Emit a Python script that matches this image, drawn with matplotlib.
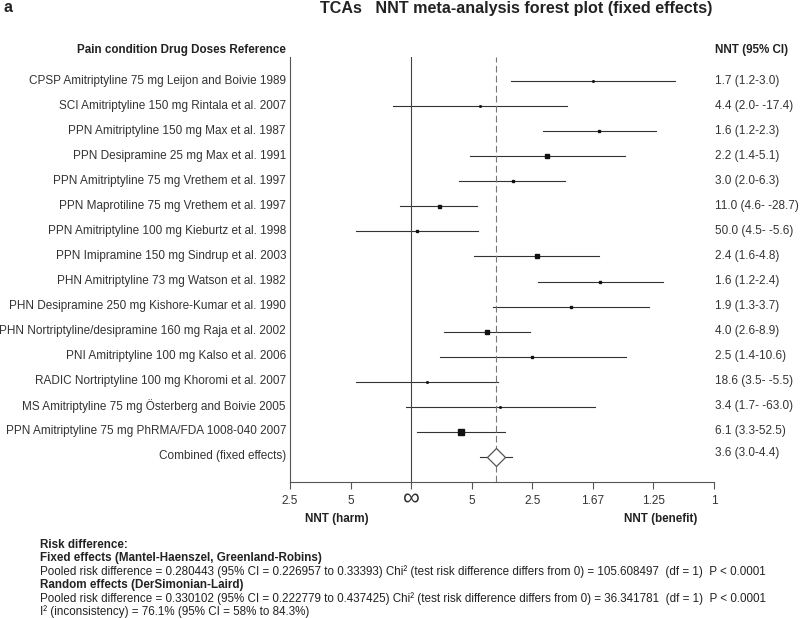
import numpy as np
import matplotlib
matplotlib.use("Agg")
import matplotlib.pyplot as plt

# TCAs NNT forest plot, values read as risk differences

studies = ["CPSP Amitriptyline 75 mg Leijon and Boivie 1989",
           "SCI Amitriptyline 150 mg Rintala et al. 2007",
           "PPN Amitriptyline 150 mg Max et al. 1987",
           "PPN Desipramine 25 mg Max et al. 1991",
           "PPN Amitriptyline 75 mg Vrethem et al. 1997",
           "PPN Maprotiline 75 mg Vrethem et al. 1997",
           "PPN Amitriptyline 100 mg Kieburtz et al. 1998",
           "PPN Imipramine 150 mg Sindrup et al. 2003",
           "PHN Amitriptyline 73 mg Watson et al. 1982",
           "PHN Desipramine 250 mg Kishore-Kumar et al. 1990",
           "PHN Nortriptyline/desipramine 160 mg Raja et al. 2002",
           "PNI Amitriptyline 100 mg Kalso et al. 2006",
           "RADIC Nortriptyline 100 mg Khoromi et al. 2007",
           "MS Amitriptyline 75 mg \u00d6sterberg and Boivie 2005",
           "PPN Amitriptyline 75 mg PhRMA/FDA 1008-040 2007"]
nnt_text = ["1.7 (1.2-3.0)", "4.4 (2.0- -17.4)", "1.6 (1.2-2.3)", "2.2 (1.4-5.1)",
            "3.0 (2.0-6.3)", "11.0 (4.6- -28.7)", "50.0 (4.5- -5.6)", "2.4 (1.6-4.8)",
            "1.6 (1.2-2.4)", "1.9 (1.3-3.7)", "4.0 (2.6-8.9)", "2.5 (1.4-10.6)",
            "18.6 (3.5- -5.5)", "3.4 (1.7- -63.0)", "6.1 (3.3-52.5)"]
rd = [0.600, 0.228, 0.620, 0.450, 0.335, 0.091, 0.019, 0.414,
      0.625, 0.527, 0.251, 0.400, 0.053, 0.294, 0.163]
rd_lo = [0.330, -0.059, 0.435, 0.195, 0.159, -0.037, -0.182, 0.209,
         0.420, 0.270, 0.110, 0.094, -0.182, -0.016, 0.018]
rd_hi = [0.870, 0.514, 0.808, 0.706, 0.508, 0.218, 0.221, 0.620,
         0.833, 0.785, 0.392, 0.708, 0.288, 0.607, 0.310]
weights = [2, 2, 6, 10, 5, 9, 8, 20, 6, 6, 25, 8, 2, 2, 42]

pooled_label = "Combined (fixed effects)"
pooled_text = "3.6 (3.0-4.4)"
pooled_rd = 0.280443
pooled_lo = 0.226957
pooled_hi = 0.33393

tick_rd = [-0.4, -0.2, 0.0, 0.2, 0.4, 0.6, 0.8, 1.0]
tick_text = ["2.5", "5", "", "5", "2.5", "1.67", "1.25", "1"]

footer = [
    ("Risk difference:", "bold"),
    ("Fixed effects (Mantel-Haenszel, Greenland-Robins)", "bold"),
    ("Pooled risk difference = 0.280443 (95% CI = 0.226957 to 0.33393) Chi\u00b2 (test risk difference differs from 0) = 105.608497  (df = 1)  P < 0.0001", "normal"),
    ("Random effects (DerSimonian-Laird)", "bold"),
    ("Pooled risk difference = 0.330102 (95% CI = 0.222779 to 0.437425) Chi\u00b2 (test risk difference differs from 0) = 36.341781  (df = 1)  P < 0.0001", "normal"),
    ("I\u00b2 (inconsistency) = 76.1% (95% CI = 58% to 84.3%)", "normal"),
]

plt.rcParams["font.family"] = ["Liberation Sans", "DejaVu Sans"]
col = "#333333"

fig = plt.figure(figsize=(8, 6.18), dpi=100)
ax = fig.add_axes([290 / 800, 1 - 482 / 618, 424 / 800, 425 / 618])

n = len(studies)
rows = np.arange(n)
for i in range(n):
    ax.plot([rd_lo[i], rd_hi[i]], [rows[i], rows[i]], color=col, lw=0.8)
    ax.plot(rd[i], rows[i], marker="s", color="#111111", ms=np.sqrt(weights[i]) * 0.72, mec="#111111")

ax.axvline(0, color="#444444", lw=0.8)
ax.axvline(pooled_rd, color="#777777", lw=0.8, ls=(0, (6, 3)))

ax.plot([pooled_lo, pooled_hi], [n, n], color=col, lw=0.8, zorder=3)
ax.plot(pooled_rd, n, marker="D", ms=9, mfc="white", mec="#555555", mew=0.9, zorder=4)

ax.set_xlim(-0.4, 1.0)
ax.set_ylim(16.0, -0.96)
ax.set_xticks(tick_rd)
ax.set_xticklabels(tick_text, fontsize=8.5)
ax.text(0, 16.7, "\u221e", ha="center", va="center", fontsize=17, color=col)
ax.set_yticks([])
ax.spines["top"].set_visible(False)
ax.spines["right"].set_visible(False)
ax.spines["left"].set_color("#555555")
ax.spines["bottom"].set_color("#555555")
ax.spines["left"].set_linewidth(0.8)
ax.spines["bottom"].set_linewidth(0.8)
ax.tick_params(axis="x", direction="out", length=5, color="#555555", labelcolor=col, pad=4)

# study labels left, NNT text right
for i in range(n):
    fig.text(286 / 800, 1 - (81 + 25 * i) / 618, studies[i], ha="right", va="center", fontsize=8.5, color=col)
    fig.text(715 / 800, 1 - (81 + 25 * i) / 618, nnt_text[i], ha="left", va="center", fontsize=8.5, color=col)
fig.text(286 / 800, 1 - (81 + 25 * n) / 618, pooled_label, ha="right", va="center", fontsize=8.5, color=col)
fig.text(715 / 800, 1 - (81 + 25 * n - 3) / 618, pooled_text, ha="left", va="center", fontsize=8.5, color=col)

fig.text(286 / 800, 1 - 50 / 618, "Pain condition Drug Doses Reference", ha="right", va="center",
         fontsize=8.4, fontweight="bold", color="#222222")
fig.text(715 / 800, 1 - 50 / 618, "NNT (95% CI)", ha="left", va="center",
         fontsize=8.4, fontweight="bold", color="#222222")

fig.text(320 / 800, 1 - 8 / 618, "TCAs   NNT meta-analysis forest plot (fixed effects)", ha="left", va="center",
         fontsize=11.6, fontweight="bold", color="#222222")
fig.text(3 / 800, 1 - 8 / 618, "a", ha="left", va="center", fontsize=11.5, fontweight="bold", color="#222222")

fig.text(305 / 800, 1 - 519 / 618, "NNT (harm)", ha="left", va="center", fontsize=8.4, fontweight="bold", color="#222222")
fig.text(697 / 800, 1 - 519 / 618, "NNT (benefit)", ha="right", va="center", fontsize=8.4, fontweight="bold", color="#222222")

y = 545
for line, weight in footer:
    fig.text(40 / 800, 1 - y / 618, line, ha="left", va="center", fontsize=8.4, fontweight=weight, color="#222222")
    y += 13.4

fig.savefig("out.png", dpi=100)
